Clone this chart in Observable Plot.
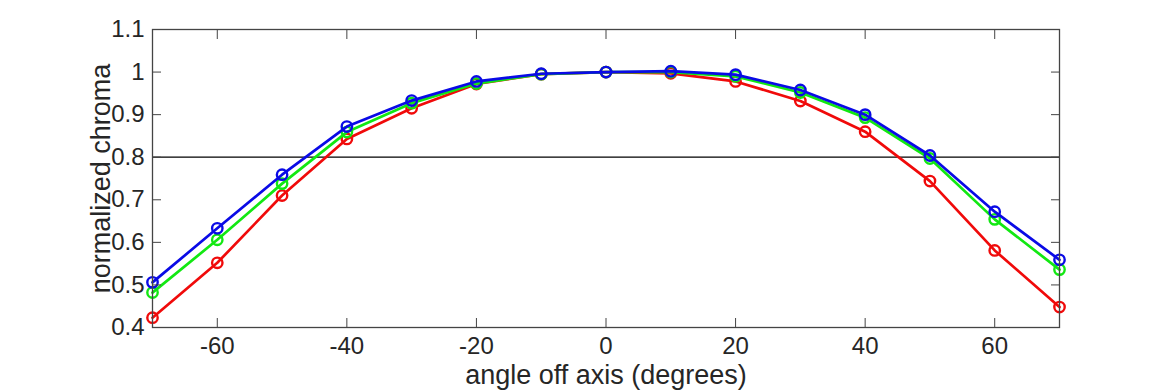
<!DOCTYPE html>
<html>
<head>
<meta charset="utf-8">
<script src="https://cdn.jsdelivr.net/npm/d3@7"></script>
<script src="https://cdn.jsdelivr.net/npm/@observablehq/plot@0.6"></script>
<style>
  html, body { margin: 0; padding: 0; background: #fff; }
  #chart { width: 1170px; height: 390px; }
</style>
</head>
<body>
<div id="chart"></div>
<script>
const angles = [-70, -60, -50, -40, -30, -20, -10, 0, 10, 20, 30, 40, 50, 60, 70];
const red   = [0.423, 0.552, 0.710, 0.843, 0.915, 0.972, 0.995, 1.000, 0.997, 0.978, 0.932, 0.860, 0.744, 0.581, 0.448];
const green = [0.482, 0.606, 0.738, 0.859, 0.927, 0.973, 0.995, 1.000, 1.000, 0.990, 0.952, 0.893, 0.797, 0.654, 0.536];
const blue  = [0.506, 0.633, 0.759, 0.872, 0.933, 0.978, 0.996, 1.000, 1.002, 0.994, 0.958, 0.900, 0.804, 0.672, 0.559];
const xTicks = [-60, -40, -20, 0, 20, 40, 60];
const yTicks = [0.4, 0.5, 0.6, 0.7, 0.8, 0.9, 1.0, 1.1];
const threshold = [0.8];
const xLabel = "angle off axis (degrees)";
const yLabel = "normalized chroma";

const series = [
  {name: "red", color: "#f00a0a", values: red},
  {name: "green", color: "#12e812", values: green},
  {name: "blue", color: "#0a0ae6", values: blue}
];

const lineMarks = series.flatMap(s => {
  const rows = angles.map((a, i) => ({angle: a, value: s.values[i]}));
  return [
    Plot.line(rows, {x: "angle", y: "value", stroke: s.color, strokeWidth: 2.7}),
    Plot.dot(rows, {x: "angle", y: "value", stroke: s.color, strokeWidth: 2.4, r: 5.2, fill: "none"})
  ];
});

const chart = Plot.plot({
  width: 1170,
  height: 390,
  marginLeft: 152,
  marginRight: 111,
  marginTop: 29,
  marginBottom: 63,
  style: {fontFamily: "'Liberation Sans', Arial, sans-serif", fontSize: "24px", color: "#262626", background: "#fff"},
  x: {domain: [-70, 70]},
  y: {domain: [0.4, 1.1]},
  marks: [
    Plot.ruleY(threshold, {stroke: "#000", strokeWidth: 1.3}),
    ...lineMarks,
    Plot.frame({stroke: "#444", strokeWidth: 1.3}),
    Plot.axisX({ticks: xTicks, tickSize: -9, tickPadding: 18, stroke: "#444", fontSize: 24, tickFormat: d => String(d), label: null}),
    Plot.axisX({anchor: "top", ticks: xTicks, tickSize: -9, tickFormat: () => "", label: null, stroke: "#444"}),
    Plot.axisY({ticks: yTicks, tickSize: -9, tickPadding: 17, stroke: "#444", fontSize: 24, tickFormat: d => String(+d.toFixed(2)), label: null}),
    Plot.axisY({anchor: "right", ticks: yTicks, tickSize: -9, tickFormat: () => "", label: null, stroke: "#444"}),
    Plot.text([xLabel], {text: d => d, frameAnchor: "bottom", dy: 56, lineAnchor: "bottom", fontSize: 27, fill: "#262626"}),
    Plot.text([yLabel], {text: d => d, frameAnchor: "left", dx: -62, rotate: -90, textAnchor: "middle", lineAnchor: "top", fontSize: 27, fill: "#262626"})
  ]
});
document.getElementById("chart").appendChild(chart);
</script>
</body>
</html>
